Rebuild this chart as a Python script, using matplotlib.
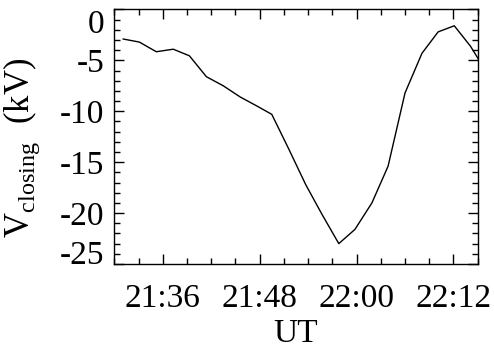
import matplotlib.pyplot as plt
from matplotlib.ticker import MultipleLocator, FuncFormatter

# minutes after 21:00 UT
ut_min = [31.1, 33.1, 35.2, 37.3, 39.3, 41.4, 43.5, 45.6, 47.7, 49.5,
          51.6, 53.7, 55.7, 57.8, 59.8, 61.9, 63.9, 66.0, 68.1, 70.1,
          72.1, 74.1, 76.2]
v_closing = [-2.9, -3.2, -4.15, -3.9, -4.55, -6.6, -7.5, -8.6, -9.5, -10.3,
             -13.7, -17.2, -20.1, -23.0, -21.6, -19.0, -15.4, -8.2, -4.3, -2.2,
             -1.6, -3.6, -6.3]

y_ticks = [0, -5, -10, -15, -20, -25]
x_ticks = [36, 48, 60, 72]


def hhmm(m, pos=None):
    h = 21 + int(m) // 60
    return "%02d:%02d" % (h, int(m) % 60)


plt.rcParams['font.family'] = 'Liberation Serif'
plt.rcParams['mathtext.fontset'] = 'custom'
plt.rcParams['mathtext.rm'] = 'Liberation Serif'

fig = plt.figure(figsize=(4.94, 3.49), dpi=100)
ax = fig.add_axes([0.2314, 0.2436, 0.7356, 0.7292])

ax.plot(ut_min, v_closing, color='black', lw=1.0)

ax.set_xlim(30, 75)
ax.set_ylim(-25, 0)
ax.set_xticks(x_ticks)
ax.xaxis.set_major_formatter(FuncFormatter(hhmm))
ax.xaxis.set_minor_locator(MultipleLocator(3))
ax.set_yticks(y_ticks)
ax.set_yticklabels([str(t) for t in y_ticks])
ax.yaxis.set_minor_locator(MultipleLocator(1))

ax.tick_params(which='both', direction='in', top=True, right=True,
               labelsize=24, width=1.0)
ax.tick_params(axis='x', which='major', length=7, pad=14)
ax.tick_params(axis='y', which='major', length=7, pad=7)
ax.tick_params(which='minor', length=4)
for s in ax.spines.values():
    s.set_linewidth(1.0)

# keep edge labels inside the axis span
ylabs = ax.get_yticklabels()
ylabs[0].set_va('top')
ylabs[-1].set_va('baseline')

ax.set_xlabel('UT', fontsize=24, labelpad=3.5)
ax.set_ylabel(r'V$_{\mathrm{closing}}$  (kV)', fontsize=25)
ax.yaxis.set_label_coords(-0.20, 0.455)

fig.savefig('out.png', dpi=100)
